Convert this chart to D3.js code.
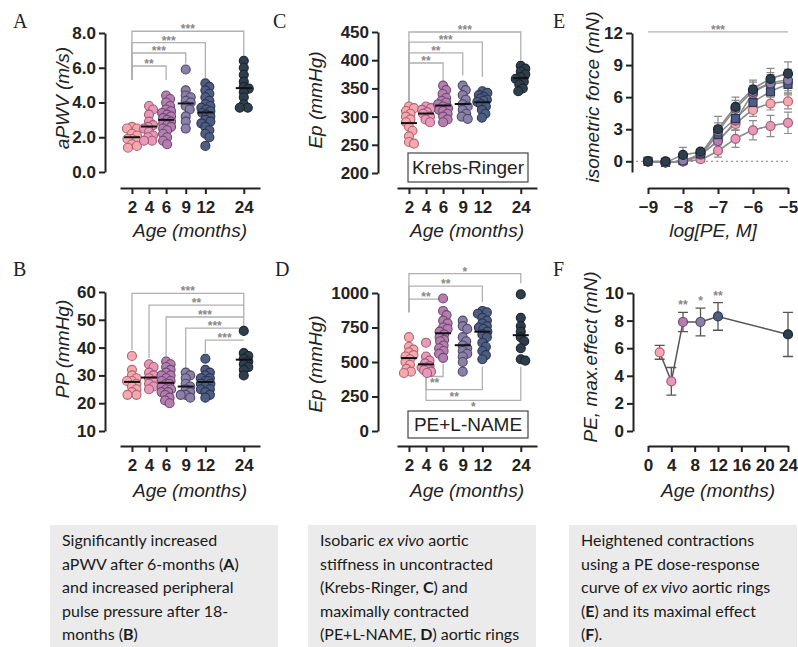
<!DOCTYPE html>
<html>
<head>
<meta charset="utf-8">
<script src="https://cdn.jsdelivr.net/npm/d3@7"></script>
<style>
  body { margin: 0; background: #fff; }
  svg { display: block; font-family: "Liberation Sans", Arial, sans-serif; }
  .axis path, .axis line { stroke: #222; stroke-width: 2; }
  .axis text { fill: #222; font-size: 17px; font-weight: bold; font-family: "Liberation Sans", Arial, sans-serif; }
  .title { font-style: italic; font-size: 19px; fill: #222; }
  .letter { font-family: "Liberation Serif", "Times New Roman", serif; font-size: 20px; fill: #222; }
  .br { fill: none; stroke: #b0b0b0; stroke-width: 1.3; }
  .star { fill: #888; font-size: 12px; font-weight: bold; }
  .caption { font-family: Lato, "Open Sans", sans-serif; font-size: 16px; fill: #1a1a1a; }
</style>
</head>
<body>
<svg id="fig" width="798" height="647"></svg>
<script>
// ---------- data ----------
const ages = [2, 4, 6, 9, 12, 24];

// A: aortic pulse wave velocity (m/s)
const pwv2 = [2.6, 2.5, 2.5, 2.2, 2.1, 1.9, 1.9, 1.8, 1.6, 1.5, 1.4];
const pwv4 = [3.8, 3.6, 3.3, 2.9, 2.7, 2.6, 2.5, 2.3, 2.1, 2.0, 1.8, 1.8];
const pwv6 = [4.4, 4.2, 4.0, 3.8, 3.6, 3.5, 3.4, 3.3, 3.2, 3.1, 3.0, 2.9, 2.8, 2.7, 2.6, 2.5, 2.4, 2.2, 2.0, 1.8, 1.6];
const pwv9 = [5.9, 4.7, 4.4, 4.3, 4.1, 4.0, 3.8, 3.6, 3.2, 2.9, 2.5];
const pwv12 = [5.1, 4.9, 4.7, 4.5, 4.3, 4.1, 3.9, 3.8, 3.7, 3.6, 3.5, 3.4, 3.3, 3.2, 3.0, 2.9, 2.8, 2.6, 2.4, 2.2, 2.0, 1.5];
const pwv24 = [6.4, 6.0, 5.6, 5.2, 4.9, 4.8, 4.6, 4.3, 3.9, 3.7, 3.7];

// B: pulse pressure (mmHg)
const pp2 = [37, 32, 30, 29, 28, 28, 27, 26, 25, 24, 23, 23];
const pp4 = [34, 33, 31, 30, 29, 28, 27, 26, 25];
const pp6 = [35, 34, 33, 32, 31, 30, 30, 29, 28, 28, 27, 27, 26, 25, 25, 24, 24, 23, 22, 21, 20];
const pp9 = [31, 30, 29, 27, 26, 25, 24, 23, 23, 22];
const pp12 = [36, 32, 31, 30, 29, 29, 28, 28, 27, 27, 26, 25, 25, 24, 23, 22];
const pp24 = [46, 38, 37, 36, 35, 34, 33, 32, 30];

// C: Ep, Krebs-Ringer (mmHg)
const epKR2 = [318, 315, 310, 305, 300, 295, 290, 282, 275, 265, 255, 252];
const epKR4 = [318, 315, 312, 308, 305, 300, 295, 290];
const epKR6 = [355, 347, 340, 333, 328, 325, 322, 318, 315, 312, 310, 305, 300, 295, 290];
const epKR9 = [355, 347, 338, 330, 322, 318, 312, 305, 300, 296];
const epKR12 = [345, 342, 338, 335, 332, 330, 328, 326, 322, 318, 312, 305, 298];
const epKR24 = [390, 385, 380, 375, 370, 367, 362, 357, 350, 345];

// D: Ep, PE+L-NAME (mmHg)
const epPE2 = [680, 610, 590, 570, 550, 540, 520, 500, 480, 450, 430, 420];
const epPE4 = [640, 540, 510, 490, 470, 460, 460, 450, 440, 430, 420];
const epPE6 = [960, 870, 840, 800, 780, 750, 740, 720, 700, 680, 660, 650, 620, 600, 580, 560, 530];
const epPE9 = [800, 760, 740, 680, 650, 620, 600, 580, 560, 540, 500, 430];
const epPE12 = [870, 860, 850, 820, 800, 780, 760, 750, 740, 720, 700, 680, 640, 610, 580, 550, 520];
const epPE24 = [990, 820, 760, 720, 680, 650, 600, 520, 510];

// E: PE dose-response, isometric force (mN), mean and error
const logPE = [-9, -8.5, -8, -7.5, -7, -6.5, -6, -5.5, -5];
const force2 = [0, -0.1, 0, 0.6, 2.0, 3.5, 4.8, 5.4, 5.6];
const force4 = [0, -0.1, 0, 0.2, 1.0, 2.1, 2.9, 3.3, 3.6];
const force6 = [0, -0.1, 0, 0.7, 1.9, 3.8, 6.3, 7.2, 7.4];
const force9 = [0, -0.1, 0.1, 0.8, 2.8, 4.9, 6.5, 7.3, 7.6];
const force12 = [0, -0.1, 0.1, 0.7, 2.5, 4.0, 5.5, 6.5, 7.2];
const force24 = [0, 0, 0.6, 0.9, 3.0, 5.1, 6.7, 7.7, 8.2];
const forceErr2 = [0.1, 0.1, 0.1, 0.2, 0.5, 0.6, 0.6, 0.6, 0.7];
const forceErr4 = [0.1, 0.1, 0.1, 0.3, 0.6, 0.8, 0.9, 1.0, 1.0];
const forceErr6 = [0.1, 0.1, 0.1, 0.3, 0.7, 0.8, 0.8, 0.9, 1.0];
const forceErr9 = [0.1, 0.1, 0.2, 0.3, 0.8, 0.8, 0.9, 1.0, 1.0];
const forceErr12 = [0.1, 0.1, 0.2, 0.3, 0.8, 0.8, 0.8, 1.0, 1.0];
const forceErr24 = [0.1, 0.1, 0.7, 0.3, 1.2, 0.9, 0.9, 1.0, 1.1];

// F: PE maximal effect (mN)
const maxEffect = [5.7, 3.6, 7.9, 7.9, 8.3, 7.0];
const maxEffectErr = [0.5, 1.0, 0.7, 1.0, 1.0, 1.6];
const maxEffectSig = ["", "", "**", "*", "**", ""];

// significance brackets (group indices, label, levels in data units)
const bracketsA = [
  { a: 0, b: 5, lab: "***", level: 8.1, ya: 5.3, yb: 6.6 },
  { a: 0, b: 4, lab: "***", level: 7.45, ya: 5.3, yb: 5.4 },
  { a: 0, b: 3, lab: "***", level: 6.85, ya: 5.3, yb: 6.25 },
  { a: 0, b: 2, lab: "**", level: 6.1, ya: 5.3, yb: 5.3 }
];
const bracketsB = [
  { a: 0, b: 5, lab: "***", level: 59.5, ya: 39.1, yb: 55.3 },
  { a: 1, b: 5, lab: "**", level: 55.3, ya: 36.3, yb: 51 },
  { a: 2, b: 5, lab: "***", level: 51, ya: 35.9, yb: 47 },
  { a: 3, b: 5, lab: "***", level: 47, ya: 31.9, yb: 46.5 },
  { a: 4, b: 5, lab: "***", level: 42.7, ya: 38, yb: 42.7 }
];
const bracketsC = [
  { a: 0, b: 5, lab: "***", level: 450, ya: 322, yb: 400 },
  { a: 0, b: 4, lab: "***", level: 432, ya: 322, yb: 370 },
  { a: 0, b: 3, lab: "**", level: 413, ya: 322, yb: 373 },
  { a: 0, b: 2, lab: "**", level: 395, ya: 322, yb: 361 }
];
const bracketsD = [
  { a: 0, b: 5, lab: "*", level: 1140, ya: 860, yb: 1070 },
  { a: 0, b: 4, lab: "**", level: 1050, ya: 860, yb: 935 },
  { a: 0, b: 2, lab: "**", level: 955, ya: 860, yb: 955 },
  { a: 1, b: 2, lab: "**", level: 395, ya: 395, yb: 490, below: true },
  { a: 1, b: 4, lab: "**", level: 300, ya: 395, yb: 465, below: true },
  { a: 1, b: 5, lab: "*", level: 222, ya: 395, yb: 465, below: true }
];

const captions = [
  ["Significantly increased", "aPWV after 6-months (**A**)", "and increased peripheral", "pulse pressure after 18-", "months (**B**)"],
  ["Isobaric _ex vivo_ aortic", "stiffness in uncontracted", "(Krebs-Ringer, **C**) and", "maximally contracted", "(PE+L-NAME, **D**) aortic rings"],
  ["Heightened contractions", "using a PE dose-response", "curve of _ex vivo_ aortic rings", "(**E**) and its maximal effect", "(**F**)."]
];

// ---------- drawing ----------
const svg = d3.select("#fig");
const fills = ["#f3a9b1", "#e59bb8", "#b47fae", "#8b80a7", "#4e5d82", "#2e3e4b"];
const strokes = ["#b5636d", "#a65878", "#6f4872", "#4d4868", "#2b3552", "#1a242d"];
const slot = [0, 1, 2, 3.15, 4.3, 6.55]; // column spacing, 24 months set apart

// compact scatter: dots may overlap, column stays narrow like the prism plot
function swarm(vals, y, spread) {
  const pts = vals.map(v => ({ v: v, y: y(v), dx: 0 })).sort((a, b) => a.y - b.y);
  const done = [];
  const minD = 5.2;
  pts.forEach(p => {
    let best = 0, bestD = -1;
    for (let k = 0; k <= spread * 4; k++) {
      const off = (k % 2 ? 1 : -1) * Math.ceil(k / 2) * 0.5;
      const d = done.length ? d3.min(done, q => Math.hypot(q.dx - off, q.y - p.y)) : 99;
      if (d >= minD) { best = off; bestD = d; break; }
      if (d > bestD + 0.5) { best = off; bestD = d; }
    }
    p.dx = best;
    done.push(p);
  });
  return pts;
}

function yAxis(g, y, xPos, ticks, fmt) {
  g.append("g").attr("class", "axis").attr("transform", `translate(${xPos},0)`)
    .call(d3.axisLeft(y).tickValues(ticks).tickFormat(fmt).tickSize(6).tickPadding(3).tickSizeOuter(0));
}

function xAxis(g, x, yPos, ticks, fmt) {
  g.append("g").attr("class", "axis").attr("transform", `translate(0,${yPos})`)
    .call(d3.axisBottom(x).tickValues(ticks).tickFormat(fmt).tickSize(6).tickPadding(7).tickSizeOuter(0));
}

function labels(g, o) {
  g.append("text").attr("class", "letter").attr("x", o.letter[0]).attr("y", o.letter[1]).text(o.letter[2]);
  g.append("text").attr("class", "title").attr("text-anchor", "middle")
    .attr("transform", `translate(${o.ytitle[0]},${o.ytitle[1]}) rotate(-90)`).attr("dy", "0.35em").text(o.ytitle[2]);
  g.append("text").attr("class", "title").attr("text-anchor", "middle")
    .attr("x", o.xtitle[0]).attr("y", o.xtitle[1]).attr("dy", "0.35em").text(o.xtitle[2]);
}

function drawBrackets(g, list, x, y) {
  list.forEach(b => {
    const xa = x(b.a), xb = x(b.b), ly = y(b.level);
    g.append("path").attr("class", "br").attr("d", `M${xa},${y(b.ya)}V${ly}H${xb}V${y(b.yb)}`);
    g.append("text").attr("class", "star").attr("text-anchor", "middle")
      .attr("x", (xa + xb) / 2).attr("y", ly + (b.below ? 11 : 2)).text(b.lab);
  });
}

function dotPanel(o) {
  const g = svg.append("g");
  const y = d3.scaleLinear().domain(o.yDomain).range(o.yRange);
  const x = d3.scaleLinear().domain([-0.7, 7.5]).range(o.xRange);
  drawBrackets(g, o.brackets, i => x(slot[i]), y);

  o.groups.forEach((vals, i) => {
    const cx = x(slot[i]);
    g.append("g").selectAll("circle").data(swarm(vals, y, 5)).join("circle")
      .attr("cx", d => cx + d.dx).attr("cy", d => d.y).attr("r", 4.5)
      .attr("fill", fills[i]).attr("stroke", strokes[i]).attr("stroke-width", 1.1);
    const m = y(d3.mean(vals));
    g.append("line").attr("x1", cx - 8).attr("x2", cx + 8).attr("y1", m).attr("y2", m)
      .attr("stroke", "#111").attr("stroke-width", 2);
  });

  if (o.box) {
    g.append("rect").attr("x", o.box[0]).attr("y", o.box[1]).attr("width", 120).attr("height", o.box[2])
      .attr("fill", "#fff").attr("stroke", "#444").attr("stroke-width", 1.2);
    g.append("text").attr("x", o.box[0] + 60).attr("y", o.box[1] + o.box[2] / 2).attr("dy", "0.36em")
      .attr("text-anchor", "middle").attr("font-size", 19).attr("fill", "#222").text(o.box[3]);
  }

  yAxis(g, y, o.yAxisX, o.yTicks, o.fmt);
  xAxis(g, x, o.xAxisY, slot, (d, i) => ages[i]);
  labels(g, o);
}

dotPanel({
  groups: [pwv2, pwv4, pwv6, pwv9, pwv12, pwv24], brackets: bracketsA,
  yDomain: [0, 8], yRange: [172, 33], yTicks: [0, 2, 4, 6, 8], fmt: d3.format(".1f"),
  xRange: [120, 260], yAxisX: 105, xAxisY: 188,
  letter: [13, 28, "A"], ytitle: [62, 98, "aPWV (m/s)"], xtitle: [190, 230, "Age (months)"]
});
dotPanel({
  groups: [pp2, pp4, pp6, pp9, pp12, pp24], brackets: bracketsB,
  yDomain: [10, 60], yRange: [431, 292], yTicks: [10, 20, 30, 40, 50, 60], fmt: d3.format("d"),
  xRange: [120, 260], yAxisX: 105, xAxisY: 446,
  letter: [13, 276, "B"], ytitle: [62, 349, "PP (mmHg)"], xtitle: [190, 490, "Age (months)"]
});
dotPanel({
  groups: [epKR2, epKR4, epKR6, epKR9, epKR12, epKR24], brackets: bracketsC,
  yDomain: [200, 450], yRange: [173, 32], yTicks: [200, 250, 300, 350, 400, 450], fmt: d3.format("d"),
  xRange: [397, 537], yAxisX: 378, xAxisY: 188, box: [408, 153, 29, "Krebs-Ringer"],
  letter: [273, 28, "C"], ytitle: [315, 100, "Ep (mmHg)"], xtitle: [467, 230, "Age (months)"]
});
dotPanel({
  groups: [epPE2, epPE4, epPE6, epPE9, epPE12, epPE24], brackets: bracketsD,
  yDomain: [0, 1000], yRange: [431, 293], yTicks: [0, 250, 500, 750, 1000], fmt: d3.format("d"),
  xRange: [397, 537], yAxisX: 378, xAxisY: 446, box: [408, 411, 27, "PE+L-NAME"],
  letter: [275, 276, "D"], ytitle: [315, 364, "Ep (mmHg)"], xtitle: [467, 490, "Age (months)"]
});

// E: dose-response curves
(function () {
  const g = svg.append("g");
  const x = d3.scaleLinear().domain([-9, -5]).range([648, 788]);
  const y = d3.scaleLinear().domain([-1, 12]).range([172, 33]);
  const series = [
    { m: force4, e: forceErr4, i: 1 }, { m: force2, e: forceErr2, i: 0 },
    { m: force6, e: forceErr6, i: 2 }, { m: force12, e: forceErr12, i: 4 },
    { m: force9, e: forceErr9, i: 3 }, { m: force24, e: forceErr24, i: 5 }
  ];
  g.append("line").attr("x1", 636).attr("x2", x(-5)).attr("y1", y(0)).attr("y2", y(0))
    .attr("stroke", "#999").attr("stroke-width", 1.2).attr("stroke-dasharray", "2,3");
  g.append("path").attr("class", "br").attr("d", `M${x(-9)},${y(12.1)}H${x(-5)}`);
  g.append("text").attr("class", "star").attr("text-anchor", "middle").attr("x", x(-7)).attr("y", y(12.1) + 2).text("***");

  const line = d3.line().x((d, k) => x(logPE[k])).y(d => y(d)).curve(d3.curveMonotoneX);
  series.forEach(s => {
    g.append("path").attr("d", line(s.m)).attr("fill", "none").attr("stroke", "#8c8c8c").attr("stroke-width", 1.6);
  });
  series.forEach(s => {
    s.m.forEach((v, k) => {
      const cx = x(logPE[k]), t = y(v + s.e[k]), b = y(v - s.e[k]);
      g.append("path").attr("d", `M${cx},${t}V${b}M${cx - 4},${t}H${cx + 4}M${cx - 4},${b}H${cx + 4}`)
        .attr("stroke", "#8c8c8c").attr("stroke-width", 1.2).attr("fill", "none");
    });
  });
  series.forEach(s => {
    const pts = g.append("g").selectAll(".pt").data(s.m).join(s.i === 4 ? "rect" : "circle");
    if (s.i === 4) {
      pts.attr("x", (d, k) => x(logPE[k]) - 4).attr("y", d => y(d) - 4).attr("width", 8).attr("height", 8);
    } else {
      pts.attr("cx", (d, k) => x(logPE[k])).attr("cy", d => y(d)).attr("r", 4.5);
    }
    pts.attr("fill", fills[s.i]).attr("stroke", strokes[s.i]).attr("stroke-width", 1.2);
  });

  yAxis(g, y, 632, [0, 3, 6, 9, 12], d3.format("d"));
  xAxis(g, x, 188, [-9, -8, -7, -6, -5], d3.format("d"));
  labels(g, { letter: [553, 28, "E"], ytitle: [592, 97, "isometric force (mN)"], xtitle: [713, 230, "log[PE, M]"] });
})();

// F: maximal effect vs age
(function () {
  const g = svg.append("g");
  const x = d3.scaleLinear().domain([0, 24]).range([648, 788]);
  const y = d3.scaleLinear().domain([0, 10]).range([431, 293]);
  g.append("path").attr("fill", "none").attr("stroke", "#555").attr("stroke-width", 1.5)
    .attr("d", d3.line().x((d, k) => x(ages[k])).y(d => y(d))(maxEffect));
  maxEffect.forEach((v, k) => {
    const cx = x(ages[k]), t = y(v + maxEffectErr[k]), b = y(v - maxEffectErr[k]);
    g.append("path").attr("d", `M${cx},${t}V${b}M${cx - 5},${t}H${cx + 5}M${cx - 5},${b}H${cx + 5}`)
      .attr("stroke", "#555").attr("stroke-width", 1.3).attr("fill", "none");
    if (maxEffectSig[k]) {
      g.append("text").attr("class", "star").attr("text-anchor", "middle")
        .attr("x", cx).attr("y", t - 3).text(maxEffectSig[k]);
    }
  });
  g.append("g").selectAll("circle").data(maxEffect).join("circle")
    .attr("cx", (d, k) => x(ages[k])).attr("cy", d => y(d)).attr("r", 4.5)
    .attr("fill", (d, k) => fills[k]).attr("stroke", (d, k) => strokes[k]).attr("stroke-width", 1.2);

  yAxis(g, y, 633, [0, 2, 4, 6, 8, 10], d3.format("d"));
  xAxis(g, x, 446, [0, 4, 8, 12, 16, 20, 24], d3.format("d"));
  labels(g, { letter: [553, 276, "F"], ytitle: [590, 357, "PE, max.effect (mN)"], xtitle: [718, 490, "Age (months)"] });
})();

// caption boxes
const boxX = [50, 308, 569];
captions.forEach((lines, b) => {
  const g = svg.append("g");
  g.append("rect").attr("x", boxX[b]).attr("y", 525).attr("width", 228).attr("height", 130).attr("fill", "#ebebeb");
  lines.forEach((ln, j) => {
    const t = g.append("text").attr("class", "caption").attr("x", boxX[b] + 12).attr("y", 546 + j * 23.5);
    ln.split(/(\*\*[^*]+\*\*|_[^_]+_)/).filter(s => s).forEach(s => {
      const sp = t.append("tspan");
      if (s.startsWith("**")) sp.attr("font-weight", "bold").text(s.slice(2, -2));
      else if (s.startsWith("_")) sp.attr("font-style", "italic").text(s.slice(1, -1));
      else sp.text(s);
    });
  });
});
</script>
</body>
</html>
